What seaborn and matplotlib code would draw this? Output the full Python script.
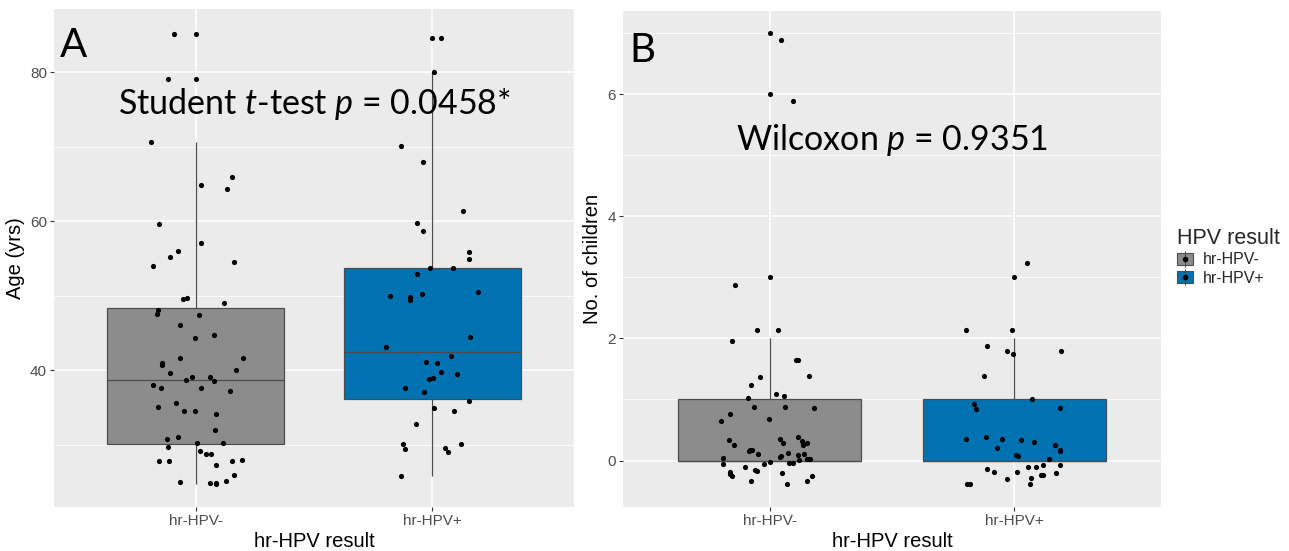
import numpy as np
import pandas as pd
import matplotlib
matplotlib.use("Agg")
import matplotlib.pyplot as plt
from matplotlib.patches import Patch
from matplotlib.lines import Line2D
from matplotlib.legend_handler import HandlerTuple
from matplotlib.ticker import MultipleLocator
import seaborn as sns

groups = ["hr-HPV-", "hr-HPV+"]
colors = ["#8C8C8C", "#0072B2"]

# Panel A: ages as plotted (jittered) and horizontal jitter
age_neg = [85.1, 79.1, 70.7, 66.0, 64.9, 64.4, 59.7, 57.1, 56.0, 55.2, 54.0, 54.6,
           49.6, 49.7, 49.1, 48.1, 47.6, 47.4, 46.1, 44.8, 44.4, 41.7, 41.7, 41.0,
           40.7, 40.1, 39.7, 39.1, 38.7, 39.1, 38.6, 38.0, 37.6, 37.6, 37.2, 35.6,
           35.1, 34.6, 34.6, 34.1, 32.0, 31.1, 30.8, 30.3, 30.3, 29.7, 29.2, 28.8,
           28.8, 27.8, 27.8, 27.8, 27.9, 27.3, 25.9, 25.0, 24.9, 24.9, 24.7, 25.1]
age_neg_dx = [-0.093, -0.119, -0.191, 0.151, 0.021, 0.134, -0.155, 0.024, -0.077, -0.111, -0.181, 0.160,
              -0.056, -0.039, 0.118, -0.159, -0.165, 0.013, -0.069, 0.079, -0.004, -0.065, 0.198, -0.145,
              -0.142, 0.169, -0.110, -0.017, -0.042, 0.058, 0.079, -0.181, -0.146, 0.021, 0.146, -0.084,
              -0.162, -0.051, -0.004, 0.084, 0.083, -0.075, -0.121, 0.005, 0.114, -0.117, 0.018, 0.045,
              0.063, -0.155, -0.114, 0.151, 0.195, 0.086, 0.160, -0.065, 0.062, 0.087, 0.084, 0.128]
age_pos = [84.6, 80.0, 70.1, 68.0, 61.4, 59.8, 58.7, 55.9, 55.0, 52.9, 53.8, 53.8,
           50.0, 49.9, 49.4, 50.2, 50.5, 44.5, 43.1, 41.9, 41.1, 41.0, 39.8, 39.5,
           38.8, 39.0, 37.6, 37.1, 35.9, 34.9, 34.6, 32.8, 30.1, 29.4, 29.6, 29.1,
           30.1, 25.8]
age_pos_dx = [0.038, 0.008, -0.134, -0.038, 0.131, -0.063, -0.037, 0.157, 0.157, -0.066, -0.011, 0.089,
              -0.178, -0.094, -0.092, -0.045, 0.193, 0.159, -0.194, 0.079, -0.027, 0.021, 0.038, 0.105,
              -0.014, 0.005, -0.117, -0.034, 0.157, 0.008, 0.094, -0.069, -0.124, -0.117, 0.055, 0.066,
              0.121, -0.130]

# Panel B: number of children (counts per value) and the jittered points
kids_values = [0, 1, 2, 3, 6, 7]
kids_neg_n = [38, 12, 5, 1, 1, 1]
kids_pos_n = [27, 5, 6, 1, 0, 0]
kids_neg_y = [6.89, 5.88, 2.87, 2.14, 2.14, 1.96, 1.64, 1.64, 1.38, 1.37, 1.23, 1.09,
              1.06, 1.03, 0.88, 0.88, 0.86, 0.76, 0.68, 0.65, 0.34, 0.26, 0.35, 0.29,
              0.38, 0.32, 0.29, 0.25, 0.18, 0.17, 0.16, 0.11, 0.13, 0.08, 0.06, 0.09,
              0.10, 0.04, 0.01, 0.03, 0.03, 0.03, -0.03, -0.06, -0.05, -0.04, -0.04, -0.11,
              -0.16, -0.17, -0.18, -0.22, -0.25, -0.21, -0.26, -0.34, -0.34, -0.39]
kids_neg_dx = [0.046, 0.097, -0.141, -0.053, 0.032, -0.155, 0.107, 0.115, 0.159, -0.040, -0.075, 0.025,
               0.059, -0.090, -0.066, 0.063, 0.183, -0.164, -0.004, -0.200, -0.167, -0.148, 0.042, 0.055,
               0.116, 0.134, 0.153, 0.136, -0.081, -0.074, -0.085, -0.049, 0.075, 0.045, 0.041, 0.116,
               0.141, -0.191, 0.119, 0.152, 0.161, 0.164, 0.000, -0.190, -0.025, 0.078, 0.095, -0.101,
               -0.060, -0.053, -0.164, -0.163, -0.156, 0.052, 0.173, -0.075, 0.153, 0.071]
kids_pos_y = [2.13, 2.13, 1.88, 1.80, 1.75, 1.80, 1.38, 1.01, 0.92, 0.85, 0.86, 0.36,
              0.38, 0.36, 0.33, 0.31, 0.21, 0.25, 0.18, 0.15, 0.09, 0.07, 0.02, -0.07,
              -0.07, -0.10, -0.11, -0.14, -0.19, -0.19, -0.21, -0.24, -0.23, -0.28, -0.31, -0.38,
              -0.39, -0.39, 3.23]
kids_pos_dx = [-0.199, -0.008, -0.113, -0.031, -0.005, 0.191, -0.123, 0.071, -0.166, -0.158, 0.189, -0.197,
               -0.116, -0.049, 0.029, 0.082, -0.072, 0.166, 0.186, 0.189, 0.007, 0.014, 0.141, 0.189,
               0.118, 0.056, 0.090, -0.111, -0.082, 0.010, 0.170, 0.111, 0.118, 0.068, -0.029, 0.066,
               -0.193, -0.182, 0.052]

sns.set_theme(style="darkgrid", rc={"axes.facecolor": "#EBEBEB", "grid.color": "white"})
plt.rcParams["font.family"] = ["Liberation Sans", "DejaVu Sans"]
plt.rcParams["mathtext.fontset"] = "custom"
plt.rcParams["mathtext.rm"] = "Lato"
plt.rcParams["mathtext.it"] = "Lato:italic"

fig = plt.figure(figsize=(12.89, 5.51), dpi=100)
ax_a = fig.add_axes([0.0419, 0.0799, 0.4034, 0.9038])
ax_b = fig.add_axes([0.4833, 0.0799, 0.4174, 0.9002])

line_col = "#4D4D4D"
box_kw = dict(order=groups, hue_order=groups, palette=colors, width=0.75, linewidth=0.9,
              linecolor=line_col, legend=False, saturation=1, showcaps=False, fliersize=3.7,
              flierprops=dict(marker="o", markerfacecolor="black", markeredgewidth=0))

df_a = pd.DataFrame({"group": [groups[0]] * len(age_neg) + [groups[1]] * len(age_pos),
                     "value": age_neg + age_pos})
df_b = pd.DataFrame({"group": [groups[0]] * sum(kids_neg_n) + [groups[1]] * sum(kids_pos_n),
                     "value": np.concatenate([np.repeat(kids_values, kids_neg_n),
                                              np.repeat(kids_values, kids_pos_n)])})

panels = [
    (ax_a, df_a, [(age_neg, age_neg_dx), (age_pos, age_pos_dx)], (21.66, 88.5), 20,
     "Age (yrs)", "A", 0.904, "Student $t$-test $p$ = 0.0458*", 75.7),
    (ax_b, df_b, [(kids_neg_y, kids_neg_dx), (kids_pos_y, kids_pos_dx)], (-0.76, 7.36), 2,
     "No. of children", "B", 0.898, "Wilcoxon $p$ = 0.9351", 5.25),
]

for ax, df, pts, ylim, step, ylab, letter, letter_y, note, note_y in panels:
    sns.boxplot(data=df, x="group", y="value", hue="group", ax=ax, **box_kw)
    for i, (yv, dx) in enumerate(pts):
        sns.scatterplot(x=np.array(dx) + i, y=yv, color="black", s=14, linewidth=0,
                        ax=ax, zorder=4)
    ax.set_xlim(-0.6, 1.6)
    ax.set_ylim(*ylim)
    ax.set_xticks([0, 1])
    ax.set_xticklabels(groups)
    ax.yaxis.set_major_locator(MultipleLocator(step))
    ax.yaxis.set_minor_locator(MultipleLocator(step / 2))
    ax.grid(True, which="major", color="white", linewidth=1.1)
    ax.grid(True, which="minor", axis="y", color="white", linewidth=0.55)
    ax.grid(False, which="minor", axis="x")
    ax.set_axisbelow(True)
    for s in ax.spines.values():
        s.set_visible(False)
    ax.tick_params(axis="both", which="major", length=3, width=0.8, color="#333333",
                   labelsize=11, labelcolor="#4D4D4D", pad=2, bottom=True, left=True)
    ax.tick_params(axis="both", which="minor", length=0)
    ax.set_xlabel("hr-HPV result", fontsize=14.5, color="black", labelpad=3)
    ax.set_ylabel(ylab, fontsize=14.5, color="black", labelpad=4)
    ax.text(0.012, letter_y, letter, transform=ax.transAxes, color="black",
            fontsize=29, family="Lato", va="baseline", ha="left")
    ax.text(0.5, note_y, note, fontsize=24.5, family="Lato", color="black",
            ha="center", va="center", zorder=5)

handles = [(Patch(facecolor=c, edgecolor=line_col, linewidth=0.8),
            Line2D([], [], marker="|", color=line_col, linestyle="none", markersize=11,
                   markeredgewidth=0.8),
            Line2D([], [], marker="o", color="black", linestyle="none", markersize=3))
           for c in colors]
leg = fig.legend(handles, groups, title="HPV result", loc="upper left",
                 bbox_to_anchor=(0.902, 0.612), frameon=False, fontsize=11.5,
                 title_fontsize=15.5, handler_map={tuple: HandlerTuple(ndivide=1)},
                 handlelength=1.0, handleheight=0.8, handletextpad=0.6, labelspacing=0.2)
leg._legend_box.align = "left"

fig.savefig("out.png", dpi=100)
